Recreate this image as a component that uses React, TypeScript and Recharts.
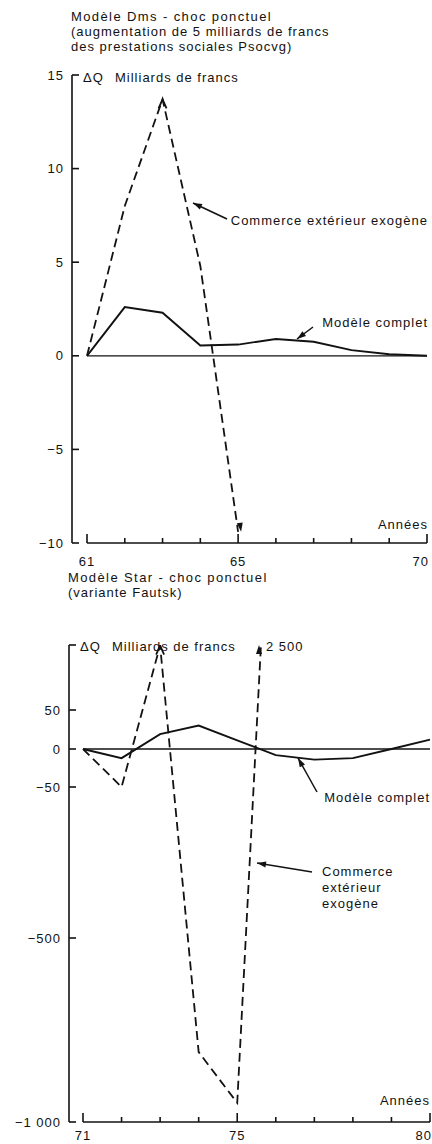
import React from 'react';
import { LineChart, Line, XAxis, YAxis, ReferenceLine } from 'recharts';

// Modèle Dms (1961-1970)
const dmsYears = [61, 62, 63, 64, 65, 66, 67, 68, 69, 70];
const dmsComplet = [0, 2.6, 2.3, 0.55, 0.6, 0.9, 0.75, 0.3, 0.08, 0];
const dmsExogene = [0, 8, 13.7, 4.8, -9.4, null, null, null, null, null];
const dmsTicks = [-10, -5, 0, 5, 10, 15];
const dmsLabelYears = [61, 65, 70];

// Modèle Star (1971-1980)
const starYears = [71, 72, 73, 74, 75, 76, 77, 78, 79, 80];
const starComplet = [0, -12, 19, 30, 11, -8, -14, -12, 0, 12];
const starExogene = [0, -50, 500, -810, -948, 2500, null, null, null, null];
const starTicks = [-1000, -500, -50, 0, 50];
const starLabelYears = [71, 75, 80];

// the Star chart has a broken vertical scale: value -> drawn offset
const warpFrom = [-1000, -500, -50, 0, 50, 2500];
const warpTo = [-373, -189, -38, 0, 39, 390];
const starTop = 104;

const warp = (v: number) => {
  let i = 0;
  while (i < warpFrom.length - 2 && v > warpFrom[i + 1]) i++;
  const t = (v - warpFrom[i]) / (warpFrom[i + 1] - warpFrom[i]);
  return warpTo[i] + t * (warpTo[i + 1] - warpTo[i]);
};

const ink = '#121212';
const font = '"Liberation Sans", Arial, sans-serif';
const txt = { fontFamily: font, fontSize: 13, letterSpacing: 1, fill: ink };

const fmt = (v: number) => {
  const s = Math.abs(v).toString().replace(/\B(?=(\d{3})+(?!\d))/g, ' ');
  return v < 0 ? '\u2212' + s : s;
};

const dmsData = dmsYears.map((year, i) => ({ year, complet: dmsComplet[i], exogene: dmsExogene[i] }));
const starData = starYears.map((year, i) => ({ year, complet: starComplet[i], exogene: starExogene[i] }));

const YTick = (props: any) => {
  const { x, y, payload, label } = props;
  return (
    <g>
      <line x1={x} x2={x + 7} y1={y} y2={y} stroke={ink} strokeWidth={1.6} />
      <text x={x - 8} y={y} dy={4.5} textAnchor="end" {...txt}>
        {label(payload.value)}
      </text>
    </g>
  );
};

const XTick = (props: any) => {
  const { x, y, payload, labels, last, gap } = props;
  const labelled = labels.includes(payload.value);
  const isLast = payload.value === last;
  return (
    <g>
      <line x1={x} x2={x} y1={y} y2={y - (labelled ? 9 : 5)} stroke={ink} strokeWidth={1.6} />
      {labelled && (
        <text x={isLast ? x + 2 : x} y={y + gap} textAnchor={isLast ? 'end' : 'middle'} {...txt}>
          {payload.value}
        </text>
      )}
    </g>
  );
};

const head = (x: number, y: number, angle: number, len = 8, half = 2.8) => {
  const c = Math.cos(angle);
  const s = Math.sin(angle);
  const bx = x - c * len;
  const by = y - s * len;
  return `M${x},${y} L${bx - s * half},${by + c * half} L${bx + s * half},${by - c * half} Z`;
};

const Pointer = ({ x1, y1, x2, y2 }: { x1: number; y1: number; x2: number; y2: number }) => (
  <g>
    <line x1={x1} y1={y1} x2={x2} y2={y2} stroke={ink} strokeWidth={1.5} />
    <path d={head(x2, y2, Math.atan2(y2 - y1, x2 - x1), 9, 3)} fill={ink} />
  </g>
);

const peakIndex = (arr: (number | null)[]) => arr.indexOf(Math.max(...(arr.filter((v) => v != null) as number[])));
const lastIndex = (arr: (number | null)[]) => arr.map((v) => v != null).lastIndexOf(true);

const chevron = (cx: number, cy: number, key: any) => (
  <path key={key} d={`M${cx - 4},${cy + 9} L${cx},${cy} L${cx + 4},${cy + 9}`} fill="none" stroke={ink} strokeWidth={1.8} />
);

const dmsDot = (p: any) => {
  const { cx, cy, index } = p;
  if (index === peakIndex(dmsExogene)) return chevron(cx, cy, index);
  if (index === lastIndex(dmsExogene)) return <path key={index} d={head(cx + 3, cy, 1.42, 9, 3)} fill={ink} />;
  return <g key={index} />;
};

const starDot = (p: any) => {
  const { cx, cy, index } = p;
  if (index === 2) return chevron(cx, cy, index);
  return <g key={index} />;
};

export default function App() {
  return (
    <div style={{ position: 'absolute', left: 0, top: 0, width: 432, height: 1144, background: '#fff' }}>
      <div style={{ position: 'absolute', left: 0, top: 0 }}>
        <LineChart width={432} height={570} data={dmsData} margin={{ top: 75, right: 5, bottom: 0, left: 0 }}>
          <XAxis
            dataKey="year"
            type="number"
            domain={[61, 70]}
            ticks={dmsYears}
            interval={0}
            padding={{ left: 15, right: 0 }}
            axisLine={false}
            tickLine={false}
            tickSize={0}
            tickMargin={0}
            height={27}
            tick={(p: any) => <XTick {...p} labels={dmsLabelYears} last={70} gap={23} />}
          />
          <YAxis
            type="number"
            domain={[-10, 15]}
            ticks={dmsTicks}
            interval={0}
            width={72}
            axisLine={{ stroke: ink, strokeWidth: 1.6 }}
            tickLine={false}
            tickSize={0}
            tickMargin={0}
            tick={(p: any) => <YTick {...p} label={fmt} />}
          />
          <ReferenceLine segment={[{ x: 61, y: 0 }, { x: 70, y: 0 }]} stroke={ink} strokeWidth={1.3} />
          <ReferenceLine segment={[{ x: 61, y: -10 }, { x: 70, y: -10 }]} stroke={ink} strokeWidth={1.6} />
          <Line type="linear" dataKey="complet" stroke={ink} strokeWidth={1.9} dot={false} isAnimationActive={false} />
          <Line
            type="linear"
            dataKey="exogene"
            stroke={ink}
            strokeWidth={1.8}
            strokeDasharray="9 5"
            dot={dmsDot}
            isAnimationActive={false}
          />
        </LineChart>
      </div>

      <div style={{ position: 'absolute', left: 0, top: 600 }}>
        <LineChart width={432} height={544} data={starData} margin={{ top: 45, right: 2, bottom: 0, left: 0 }}>
          <XAxis
            dataKey="year"
            type="number"
            domain={[71, 80]}
            ticks={starYears}
            interval={0}
            padding={{ left: 14, right: 0 }}
            axisLine={false}
            tickLine={false}
            tickSize={0}
            tickMargin={0}
            height={22}
            tick={(p: any) => <XTick {...p} labels={starLabelYears} last={80} gap={18} />}
          />
          <YAxis
            type="number"
            domain={[warp(-1000), starTop]}
            allowDataOverflow
            ticks={[...starTicks.map(warp), starTop]}
            interval={0}
            width={69}
            axisLine={{ stroke: ink, strokeWidth: 1.6 }}
            tickLine={false}
            tickSize={0}
            tickMargin={0}
            tick={(p: any) => (
              <YTick
                {...p}
                label={(v: number) => {
                  const i = starTicks.findIndex((t) => Math.abs(warp(t) - v) < 0.01);
                  return i < 0 ? '' : fmt(starTicks[i]);
                }}
              />
            )}
          />
          <ReferenceLine segment={[{ x: 71, y: 0 }, { x: 80, y: 0 }]} stroke={ink} strokeWidth={1.3} />
          <ReferenceLine segment={[{ x: 71, y: warp(-1000) }, { x: 80, y: warp(-1000) }]} stroke={ink} strokeWidth={1.6} />
          <Line
            type="linear"
            dataKey={(d: any) => (d.complet == null ? null : warp(d.complet))}
            stroke={ink}
            strokeWidth={1.9}
            dot={false}
            isAnimationActive={false}
          />
          <Line
            type="linear"
            dataKey={(d: any) => (d.exogene == null ? null : warp(d.exogene))}
            stroke={ink}
            strokeWidth={1.8}
            strokeDasharray="9 5"
            dot={starDot}
            isAnimationActive={false}
          />
        </LineChart>
      </div>

      <svg width={432} height={1144} style={{ position: 'absolute', left: 0, top: 0, pointerEvents: 'none' }}>
        <text x={71} y={21} {...txt} letterSpacing={1.4}>Modèle Dms - choc ponctuel</text>
        <text x={71} y={36} {...txt}>(augmentation de 5 milliards de francs</text>
        <text x={71} y={51} {...txt}>des prestations sociales Psocvg)</text>
        <text x={83} y={82} {...txt}>ΔQ</text>
        <text x={115} y={82} {...txt}>Milliards de francs</text>
        <text x={428} y={225} textAnchor="end" {...txt}>Commerce extérieur exogène</text>
        <Pointer x1={227} y1={219} x2={193} y2={203} />
        <text x={428} y={327} textAnchor="end" {...txt}>Modèle complet</text>
        <Pointer x1={313} y1={327} x2={297} y2={339} />
        <text x={428} y={529} textAnchor="end" {...txt}>Années</text>

        <text x={68} y={582} {...txt} letterSpacing={1.4}>Modèle Star - choc ponctuel</text>
        <text x={68} y={597} {...txt}>(variante Fautsk)</text>
        <text x={80} y={651} {...txt}>ΔQ</text>
        <text x={112} y={651} {...txt}>Milliards de francs</text>
        <path d={head(259, 645, -Math.PI / 2, 9, 3)} fill={ink} />
        <text x={266} y={651} {...txt}>2 500</text>
        <text x={430} y={802} textAnchor="end" {...txt}>Modèle complet</text>
        <Pointer x1={317} y1={792} x2={298} y2={758} />
        <text x={322} y={876} {...txt}>Commerce</text>
        <text x={322} y={892} {...txt}>extérieur</text>
        <text x={322} y={908} {...txt}>exogène</text>
        <Pointer x1={312} y1={872} x2={257} y2={863} />
        <text x={430} y={1105} textAnchor="end" {...txt}>Années</text>
      </svg>
    </div>
  );
}
